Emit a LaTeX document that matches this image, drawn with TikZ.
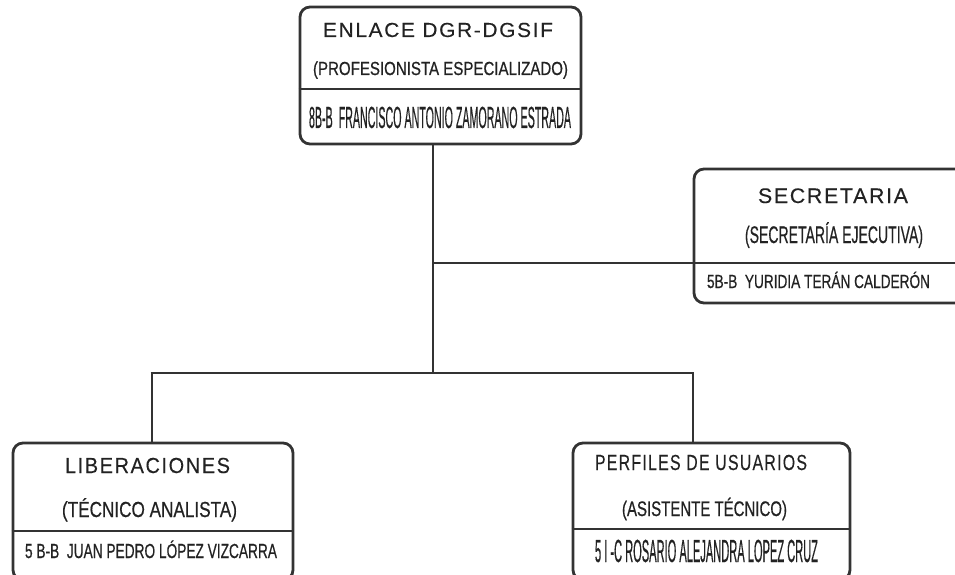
\documentclass[tikz,border=0pt]{standalone}
\usepackage{fontspec}
\setmainfont{Liberation Sans}
\newfontfamily\plainfont[FakeBold=0.7]{Liberation Sans}
\newfontfamily\spacedfont[LetterSpace=8,FakeBold=0.3]{Liberation Sans}
\usepackage{graphicx}
\newsavebox\txtbox
\newsavebox\capref
% #1 target width, #2 target cap height, #3 text
\newcommand\fitc[3]{{\plainfont\fontsize{20}{20}\selectfont
  \sbox\txtbox{#3}\sbox\capref{H}%
  \pgfmathsetmacro\myscx{#1/\the\wd\txtbox}%
  \pgfmathsetmacro\myscy{#2/\the\ht\capref}%
  \scalebox{\myscx}[\myscy]{\usebox\txtbox}}}
\newcommand\fits[3]{{\spacedfont\fontsize{20}{20}\selectfont
  \sbox\txtbox{#3}\sbox\capref{H}%
  \pgfmathsetmacro\myscx{#1/\the\wd\txtbox}%
  \pgfmathsetmacro\myscy{#2/\the\ht\capref}%
  \scalebox{\myscx}[\myscy]{\usebox\txtbox}}}
\definecolor{ink}{HTML}{333333}
\definecolor{txt}{HTML}{222222}
\begin{document}
\begin{tikzpicture}[x=1pt,y=-1pt,
  box/.style={draw=ink,line width=2.8pt,rounded corners=10pt,inner sep=0pt,fill=none},
  conn/.style={draw=ink,line width=2.6pt},
  divline/.style={draw=ink,line width=2.4pt},
  lbl/.style={inner sep=0pt,anchor=base,text=txt}]
\useasboundingbox (0,0) rectangle (955,575);
% boxes
\node[box,minimum width=281pt,minimum height=137pt] (top) at (440.5,75.5) {};
\node[box,minimum width=281pt,minimum height=134pt] (sec) at (834.5,236) {};
\node[box,minimum width=280pt,minimum height=137pt] (lib) at (153,511.5) {};
\node[box,minimum width=277pt,minimum height=137pt] (per) at (711.5,511.5) {};
% dividers
\coordinate (tdl) at (300,89); \coordinate (tdr) at (581,89);
\draw[divline] (tdl -| top.west) -- (tdr -| top.east);
\coordinate (sdl) at (694,263);
\draw[divline] (sdl -| sec.west) -- (sdl -| sec.east);
\coordinate (ldl) at (13,531);
\draw[divline] (ldl -| lib.west) -- (ldl -| lib.east);
\coordinate (pdl) at (573,529);
\draw[divline] (pdl -| per.west) -- (pdl -| per.east);
% connectors
\coordinate (j1) at (433,263);
\coordinate (j2) at (433,373);
\coordinate (jl) at (152,373);
\coordinate (jr) at (693,373);
\draw[conn] (top.south -| j1) -- (j2);
\draw[conn] (j1) -- (sec.west |- j1);
\draw[conn] ([xshift=-1.3pt]jl) -- ([xshift=1.3pt]jr);
\draw[conn] (jl) -- (lib.north -| jl);
\draw[conn] (jr) -- (per.north -| jr);
% texts
\node[lbl] (t1) at (438,37) {\fits{230pt}{14pt}{ENLACE DGR-DGSIF}};
\node[lbl] (t2) at (440.5,75) {\fitc{255pt}{13pt}{(PROFESIONISTA ESPECIALIZADO)}};
\node[lbl] (t3) at (440,128) {\fitc{262pt}{21pt}{8B-B\ \ FRANCISCO ANTONIO ZAMORANO ESTRADA}};
\node[lbl] (s1) at (833,203) {\fits{150pt}{14.5pt}{SECRETARIA}};
\node[lbl] (s2) at (834,243) {\fitc{178pt}{16.5pt}{(SECRETARÍA EJECUTIVA)}};
\node[lbl] (s3) at (818.5,288) {\fitc{223pt}{13pt}{5B-B\ \ YURIDIA TERÁN CALDERÓN}};
\node[lbl] (l1) at (147.5,473) {\fits{165pt}{15pt}{LIBERACIONES}};
\node[lbl] (l2) at (149.5,517) {\fitc{175pt}{15pt}{(TÉCNICO ANALISTA)}};
\node[lbl] (l3) at (151,558) {\fitc{252pt}{14pt}{5 B-B\ \ JUAN PEDRO LÓPEZ VIZCARRA}};
\node[lbl] (p1) at (701,470) {\fits{212pt}{15pt}{PERFILES DE USUARIOS}};
\node[lbl] (p2) at (704.5,516) {\fitc{165pt}{14.5pt}{(ASISTENTE TÉCNICO)}};
\node[lbl] (p3) at (706.5,562) {\fitc{223pt}{22pt}{5 I -C ROSARIO ALEJANDRA LOPEZ CRUZ}};
\end{tikzpicture}
\end{document}
